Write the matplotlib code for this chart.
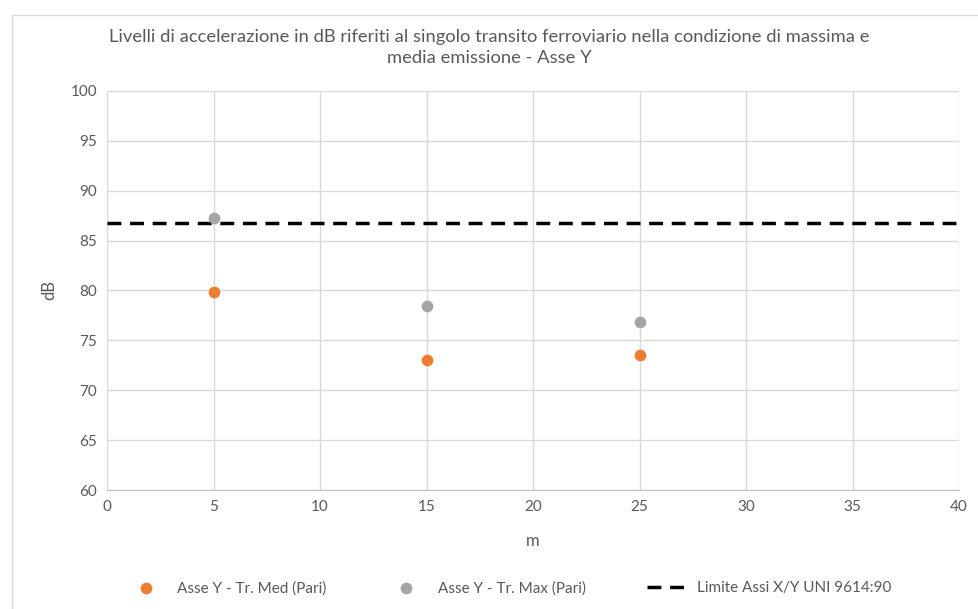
import matplotlib.pyplot as plt
from matplotlib.patches import Rectangle

# data
distanze = [5, 15, 25]
med_pari = [79.8, 73.0, 73.5]
max_pari = [87.3, 78.4, 76.8]
limite_x = [0, 40]
limite_y = [86.8, 86.8]

text_col = '#595959'
grid_col = '#d9d9d9'

plt.rcParams['font.family'] = ['Lato', 'DejaVu Sans']

fig = plt.figure(figsize=(9.79, 6.09), dpi=100)
ax = fig.add_axes([0.1093, 0.1954, 0.8703, 0.6552])

ax.scatter(distanze, med_pari, s=55, color='#ed7d31', zorder=3,
           label='Asse Y - Tr. Med (Pari)')
ax.scatter(distanze, max_pari, s=55, color='#a5a5a5', zorder=3,
           label='Asse Y - Tr. Max (Pari)')
ax.plot(limite_x, limite_y, color='black', linestyle=(0, (4, 2.5)), linewidth=2.5,
        zorder=2, label='Limite Assi X/Y UNI 9614:90')

ax.set_xlim(0, 40)
ax.set_ylim(60, 100)
ax.set_xticks(range(0, 41, 5))
ax.set_yticks(range(60, 101, 5))
ax.grid(True, color=grid_col, linewidth=1)
ax.set_axisbelow(True)
for s in ['top', 'right', 'left']:
    ax.spines[s].set_visible(False)
ax.spines['bottom'].set_color('#bfbfbf')
ax.tick_params(length=0, labelsize=11, colors=text_col, pad=7)

ax.set_xlabel('m', fontsize=12, color=text_col, labelpad=14)
ax.set_ylabel('dB', fontsize=12, color=text_col, labelpad=10)

fig.text(0.5, 0.922, 'Livelli di accelerazione in dB riferiti al singolo transito ferroviario nella condizione di massima e\nmedia emissione - Asse Y',
         ha='center', va='center', fontsize=13.2, color=text_col, linespacing=1.35)

leg = fig.legend(loc='center', bbox_to_anchor=(0.52, 0.034), ncol=3, frameon=False,
                 fontsize=11, handlelength=2.5, columnspacing=4)
for t in leg.get_texts():
    t.set_color(text_col)

# light border around the chart area
fig.patches.append(Rectangle((0.012, -0.01), 1.0, 0.985, transform=fig.transFigure,
                             fill=False, edgecolor='#d9d9d9', linewidth=1))

plt.savefig('out.png', dpi=100)
